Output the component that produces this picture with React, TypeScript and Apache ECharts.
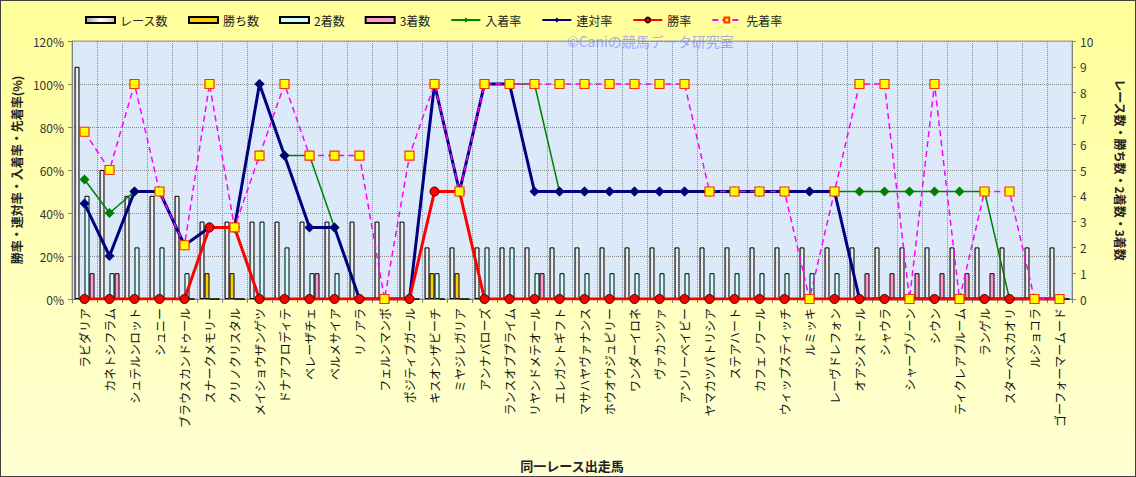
import React, { useEffect, useRef } from "react";
import * as echarts from "echarts";

const horses = [
  "ラビダリア", "カネトシフラム", "シュテルンロット", "シュニー", "ブラウスカンドゥール",
  "スナークメモリー", "クリノクリスタル", "メイショウザンゲツ", "ドナアフロディテ", "ベレーザチェ",
  "ベルメサイア", "リノアラ", "フェルンマンボ", "ポジティブガール", "キスオンザビーチ",
  "ミヤジレガリア", "アンナバローズ", "ランスオブプライム", "リヤンドメテオール", "エレガントギフト",
  "マサハヤヴァナンス", "ホウオウジュピリー", "ワンダーイロネ", "ヴァカンツァ", "アンリーベイビー",
  "ヤマカツパトリシア", "ステアハート", "カフェノワール", "ウィップスティッチ", "ルミッキ",
  "レーヴドレフォン", "オアシスドール", "シャウラ", "シャープゾーン", "シウン",
  "ティクレアブルーム", "ランゲル", "スターベスカオリ", "ルショコラ", "ゴーフォーマームード",
];

const races = [9, 5, 4, 4, 4, 3, 3, 3, 3, 3, 3, 3, 3, 3, 2, 2, 2, 2, 2, 2, 2, 2, 2, 2, 2, 2, 2, 2, 2, 2, 2, 2, 2, 2, 2, 2, 2, 2, 2, 2];
const wins = [0, 0, 0, 0, 0, 1, 1, 0, 0, 0, 0, 0, 0, 0, 1, 1, 0, 0, 0, 0, 0, 0, 0, 0, 0, 0, 0, 0, 0, 0, 0, 0, 0, 0, 0, 0, 0, 0, 0, 0];
const seconds = [4, 1, 2, 2, 1, 0, 0, 3, 2, 1, 1, 0, 0, 0, 1, 0, 2, 2, 1, 1, 1, 1, 1, 1, 1, 1, 1, 1, 1, 1, 1, 0, 0, 0, 0, 0, 0, 0, 0, 0];
const thirds = [1, 1, 0, 0, 0, 0, 0, 0, 0, 1, 0, 0, 0, 0, 0, 0, 0, 0, 1, 0, 0, 0, 0, 0, 0, 0, 0, 0, 0, 0, 0, 1, 1, 1, 1, 1, 1, 0, 0, 0];

const nyuchakuRate = [55.6, 40, 50, 50, 25, 33.3, 33.3, 100, 66.7, 66.7, 33.3, 0, 0, 0, 100, 50, 100, 100, 100, 50, 50, 50, 50, 50, 50, 50, 50, 50, 50, 50, 50, 50, 50, 50, 50, 50, 50, 0, 0, 0];
const rentaiRate = [44.4, 20, 50, 50, 25, 33.3, 33.3, 100, 66.7, 33.3, 33.3, 0, 0, 0, 100, 50, 100, 100, 50, 50, 50, 50, 50, 50, 50, 50, 50, 50, 50, 50, 50, 0, 0, 0, 0, 0, 0, 0, 0, 0];
const winRate = [0, 0, 0, 0, 0, 33.3, 33.3, 0, 0, 0, 0, 0, 0, 0, 50, 50, 0, 0, 0, 0, 0, 0, 0, 0, 0, 0, 0, 0, 0, 0, 0, 0, 0, 0, 0, 0, 0, 0, 0, 0];
const senchakuRate = [77.8, 60, 100, 50, 25, 100, 33.3, 66.7, 100, 66.7, 66.7, 66.7, 0, 66.7, 100, 50, 100, 100, 100, 100, 100, 100, 100, 100, 100, 50, 50, 50, 50, 0, 50, 100, 100, 0, 100, 0, 50, 50, 0, 0];

const FONT = "'Noto Sans CJK JP', 'Noto Sans', sans-serif";

export default function App() {
  const ref = useRef<HTMLDivElement>(null);
  useEffect(() => {
    document.body.style.margin = "0";
    const chart = echarts.init(ref.current as HTMLDivElement, undefined, { renderer: "svg" });
    const raceGrad = new echarts.graphic.LinearGradient(0, 0, 1, 0, [
      { offset: 0, color: "#a0a0a0" },
      { offset: 0.5, color: "#ffffff" },
      { offset: 1, color: "#c8c8c8" },
    ]);
    const barBase = {
      type: "bar",
      yAxisIndex: 1,
      barWidth: 5,
      barGap: "0%",
    };
    const option = {
      animation: false,
      backgroundColor: new echarts.graphic.LinearGradient(0, 0, 0, 1, [
        { offset: 0, color: "#ffff99" },
        { offset: 1, color: "#ffffd4" },
      ]),
      textStyle: { fontFamily: FONT },
      legend: {
        left: 80,
        top: 9,
        itemWidth: 29,
        itemHeight: 6,
        itemGap: 20,
        textStyle: { fontSize: 12, color: "#222", fontFamily: FONT },
        data: [
          { name: "レース数", icon: "rect" },
          { name: "勝ち数", icon: "rect" },
          { name: "2着数", icon: "rect" },
          { name: "3着数", icon: "rect" },
          "入着率",
          "連対率",
          "勝率",
          "先着率",
        ],
      },
      graphic: [
        {
          type: "rect",
          shape: { x: 0, y: 0, width: 1136, height: 477 },
          style: { fill: "none", stroke: "#404040", lineWidth: 2 },
          z: 100,
          silent: true,
        },
        {
          type: "text",
          x: 567,
          y: 34,
          style: {
            text: "©Caniの競馬データ研究室",
            fill: "rgba(110,120,255,0.6)",
            fontSize: 14,
            fontFamily: FONT,
          },
          z: 100,
          silent: true,
        },
      ],
      grid: {
        left: 72,
        right: 64,
        top: 41,
        bottom: 175,
        show: true,
        backgroundColor: "#dce9f8",
        borderColor: "#a0a0a0",
        borderWidth: 1,
      },
      xAxis: {
        type: "category",
        data: horses,
        boundaryGap: true,
        name: "同一レース出走馬",
        nameLocation: "middle",
        nameGap: 160,
        nameTextStyle: { fontSize: 13, fontWeight: "bold", color: "#222", fontFamily: FONT },
        axisLine: { lineStyle: { color: "#808080" } },
        axisTick: { show: true, interval: 0, length: 4, lineStyle: { color: "#808080" } },
        axisLabel: { interval: 0, rotate: 90, fontSize: 12, color: "#111", margin: 9, fontFamily: FONT },
        splitLine: { show: true, interval: 0, lineStyle: { type: "dotted", color: "#8c8c8c" } },
      },
      yAxis: [
        {
          type: "value",
          min: 0,
          max: 120,
          interval: 20,
          name: "勝率・連対率・入着率・先着率(%)",
          nameLocation: "middle",
          nameGap: 50,
          nameTextStyle: { fontSize: 12, fontWeight: "bold", color: "#222", fontFamily: FONT },
          axisLine: { show: true, lineStyle: { color: "#808080" } },
          axisTick: { show: true, length: 4, lineStyle: { color: "#808080" } },
          axisLabel: { formatter: "{value}%", fontSize: 12, color: "#333", margin: 8, fontFamily: FONT },
          splitLine: { show: true, lineStyle: { type: "dotted", color: "#8c8c8c" } },
        },
        {
          type: "value",
          min: 0,
          max: 10,
          interval: 1,
          name: "レース数・勝ち数・2着数・3着数",
          nameLocation: "middle",
          nameGap: 42,
          nameRotate: -90,
          nameTextStyle: { fontSize: 12, fontWeight: "bold", color: "#222", fontFamily: FONT },
          axisLine: { show: true, lineStyle: { color: "#808080" } },
          axisTick: { show: true, length: 4, lineStyle: { color: "#808080" } },
          axisLabel: { fontSize: 12, color: "#333", margin: 8, fontFamily: FONT },
          splitLine: { show: false },
        },
      ],
      series: [
        {
          ...barBase,
          name: "レース数",
          data: races,
          itemStyle: { color: raceGrad, borderColor: "#000", borderWidth: 1 },
        },
        {
          ...barBase,
          name: "勝ち数",
          data: wins,
          itemStyle: { color: "#ffcc00", borderColor: "#000", borderWidth: 1 },
        },
        {
          ...barBase,
          name: "2着数",
          data: seconds,
          itemStyle: { color: "#ccffff", borderColor: "#000", borderWidth: 1 },
        },
        {
          ...barBase,
          name: "3着数",
          data: thirds,
          itemStyle: { color: "#ff99cc", borderColor: "#000", borderWidth: 1 },
        },
        {
          type: "line",
          name: "入着率",
          yAxisIndex: 0,
          data: nyuchakuRate,
          symbol: "diamond",
          symbolSize: 10,
          lineStyle: { color: "#008000", width: 1.5 },
          itemStyle: { color: "#008000" },
        },
        {
          type: "line",
          name: "連対率",
          yAxisIndex: 0,
          data: rentaiRate,
          symbol: "diamond",
          symbolSize: 10,
          lineStyle: { color: "#000080", width: 3 },
          itemStyle: { color: "#000080" },
        },
        {
          type: "line",
          name: "勝率",
          yAxisIndex: 0,
          data: winRate,
          symbol: "circle",
          symbolSize: 9,
          lineStyle: { color: "#ff0000", width: 3 },
          itemStyle: { color: "#ff0000", borderColor: "#400000", borderWidth: 1 },
        },
        {
          type: "line",
          name: "先着率",
          yAxisIndex: 0,
          data: senchakuRate,
          symbol: "rect",
          symbolSize: 9,
          lineStyle: { color: "#ff00ff", width: 1.5, type: [6, 4] },
          itemStyle: { color: "#ffff00", borderColor: "#ff3300", borderWidth: 1.2 },
        },
      ],
    };
    chart.setOption(option as any);
    return () => chart.dispose();
  }, []);
  return <div ref={ref} style={{ width: 1136, height: 477 }} />;
}
